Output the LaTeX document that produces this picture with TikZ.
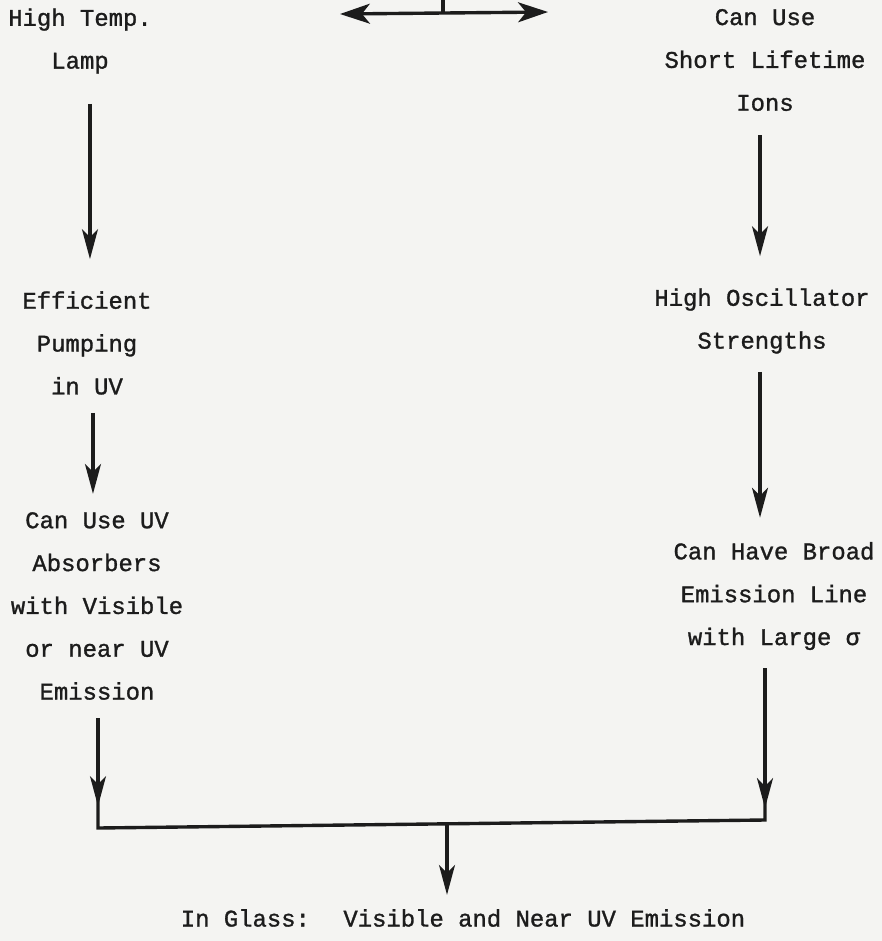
\documentclass[tikz,border=0pt]{standalone}
\usepackage{fontspec}
\newfontfamily\typewriter[FakeBold=1.2]{Liberation Mono}
\usetikzlibrary{arrows.meta}
\definecolor{paper}{RGB}{244,244,242}
\definecolor{ink}{RGB}{28,28,28}
\tikzset{
 note/.style={align=center,inner sep=0pt,text=ink},
 link/.style={draw=ink,line width=1.7pt},
 arr/.style={link,-{Stealth[length=15pt,width=8pt,inset=4pt]}},
 twoway/.style={link,{Stealth[length=15pt,width=10pt,inset=4pt]}-{Stealth[length=15pt,width=10pt,inset=4pt]}}
}

\begin{document}
\begin{tikzpicture}[x=0.5bp,y=-0.5bp,font=\typewriter\fontsize{12}{21.5}\selectfont]
 \fill[paper] (0,0) rectangle (882,941);
 \useasboundingbox (0,0) rectangle (882,941);
 % left column
 \node[note] (lamp) at (80,41) {High Temp.\\Lamp};
 \node[note] (pump) at (87,343) {Efficient\\Pumping\\in UV};
 \node[note] (absorb) at (97,606) {Can Use UV\\Absorbers\\with Visible\\or near UV\\Emission};
 % right column
 \node[note] (ions) at (765,60) {Can Use\\Short Lifetime\\Ions};
 \node[note] (osc) at (762,321) {High Oscillator\\Strengths};
 \node[note] (broad) at (774,596) {Can Have Broad\\Emission Line\\with Large σ};
 \node[note] (glass) at (463,918) {In Glass:~ Visible and Near UV Emission};
 % top branch
 \coordinate (topL) at (340,14);
 \coordinate (topR) at (548,12);
 \coordinate (topM) at (443,0);
 \draw[twoway] (topL) -- (topR);
 \draw[link] (topM) -- (topM |- topL);
 % vertical arrows
 \draw[arr,shorten <=15pt,shorten >=16pt] ([xshift=5pt]lamp.south) -- ([xshift=5pt]lamp.south |- pump.north);
 \draw[arr,shorten <=9pt,shorten >=9pt] ([xshift=3pt]pump.south) -- ([xshift=3pt]pump.south |- absorb.north);
 \draw[arr,shorten <=12pt,shorten >=16pt] ([xshift=-2.5pt]ions.south) -- ([xshift=-2.5pt]ions.south |- osc.north);
 \draw[arr,shorten <=9pt,shorten >=12pt] ([xshift=-1pt]osc.south) -- ([xshift=-1pt]osc.south |- broad.north);
 % joining bar
 \coordinate (barL) at (98,828);
 \coordinate (barR) at (765,820);
 \coordinate (barM) at (447,825);
 \draw[link,shorten <=9pt,shorten >=9pt] (absorb.south -| barL) -- (barL) -- (barR) -- (broad.south -| barR);
 \draw[arr,shorten <=9pt] (absorb.south -| barL) -- ([yshift=11pt]barL);
 \draw[arr,shorten <=9pt] (broad.south -| barR) -- ([yshift=6pt]barR);
 \draw[arr,shorten >=7pt] (barM) -- (barM |- glass.north);
\end{tikzpicture}
\end{document}
